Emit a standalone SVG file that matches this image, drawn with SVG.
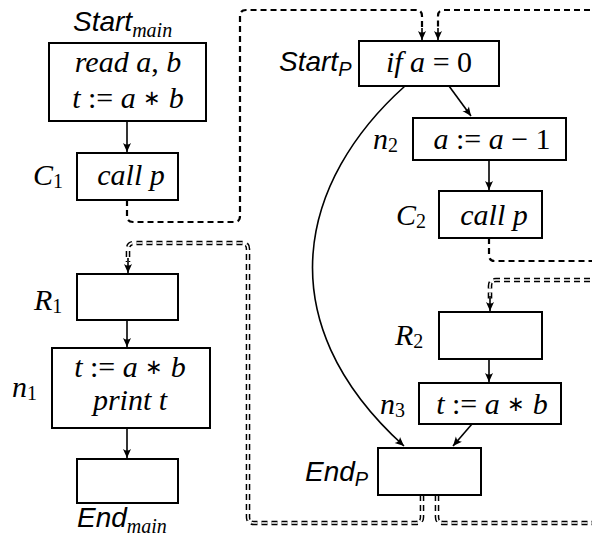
<svg xmlns="http://www.w3.org/2000/svg" width="592" height="542" viewBox="0 0 592 542">
<style>
.box{fill:#fff;stroke:#000;stroke-width:2}
.m{font-family:"Liberation Serif","Times New Roman",serif;font-size:30px;font-style:italic;fill:#000}
.u{font-style:normal}
.ast{font-style:normal;font-size:21px}
.s{font-family:"Liberation Sans",Arial,sans-serif;font-size:28px;font-style:italic;fill:#000}
.sub{font-size:20px}
.edge{fill:none;stroke:#000;stroke-width:1.6}
.dash{fill:none;stroke:#000;stroke-width:2.2;stroke-dasharray:6 4}
.dblo{fill:none;stroke:#000;stroke-width:4.6;stroke-dasharray:6 4}
.dbli{fill:none;stroke:#fff;stroke-width:1.6;stroke-dasharray:6 4}
</style>
<defs>
<marker id="ah" viewBox="-10 -5 11 10" refX="0" refY="0" markerWidth="11" markerHeight="10" markerUnits="userSpaceOnUse" orient="auto">
<path d="M0,0 L-9,-4 Q-6,0 -9,4 Z" fill="#000"/>
</marker>
</defs>
<g id="connectors">
<path class="edge" d="M127,121 V152" marker-end="url(#ah)"/>
<path class="edge" d="M449,86 L471,116" marker-end="url(#ah)"/>
<path class="edge" d="M489,160 V190" marker-end="url(#ah)"/>
<path class="edge" d="M489,359 V382" marker-end="url(#ah)"/>
<path class="edge" d="M472,424 L453,446" marker-end="url(#ah)"/>
<path class="edge" d="M405,86 C300,180 265,320 404,446" marker-end="url(#ah)"/>
<path class="edge" d="M127,320 V347" marker-end="url(#ah)"/>
<path class="edge" d="M127,428 V458" marker-end="url(#ah)"/>
<path class="dash" d="M127,200 V216 Q127,222 133,222 H234 Q240,222 240,216 V16 Q240,10 246,10 H416 Q422,10 422,16 V30"/>
<path class="edge" d="M422,28 V40" marker-end="url(#ah)"/>
<path class="dash" d="M600,10 H444 Q438,10 438,16 V30"/>
<path class="edge" d="M438,28 V40" marker-end="url(#ah)"/>
<path class="dash" d="M489,238 V255 Q489,261 495,261 H600"/>
<path class="dblo" d="M600,280 H496 Q490,280 490,286 V300"/>
<path class="dbli" d="M600,280 H496 Q490,280 490,286 V300"/>
<path class="edge" d="M490,296 V311" marker-end="url(#ah)"/>
<path class="dblo" d="M422,495 V517 Q422,523 416,523 H254 Q248,523 248,517 V249 Q248,243 242,243 H134 Q128,243 128,249 V262"/>
<path class="dbli" d="M422,495 V517 Q422,523 416,523 H254 Q248,523 248,517 V249 Q248,243 242,243 H134 Q128,243 128,249 V262"/>
<path class="edge" d="M128,258 V273" marker-end="url(#ah)"/>
<path class="dblo" d="M437,495 V517 Q437,523 443,523 H600"/>
<path class="dbli" d="M437,495 V517 Q437,523 443,523 H600"/>
</g>
<g id="start_main">
<text class="s" x="73" y="31">Start<tspan class="m sub" dy="6">main</tspan></text>
<rect class="box" x="49" y="43" width="157" height="78"/>
<text class="m" x="128" y="72" text-anchor="middle">read a<tspan class="u">,</tspan> b</text>
<text class="m" x="128" y="108" text-anchor="middle">t <tspan class="u">:=</tspan> a <tspan class="ast" dy="-3">∗</tspan><tspan dy="3"> b</tspan></text>
</g>
<g id="c1">
<rect class="box" x="77" y="153" width="101" height="47"/>
<text class="m" x="131" y="185" text-anchor="middle">call p</text>
<text class="m" x="33" y="185">C<tspan class="u sub" dy="3">1</tspan></text>
</g>
<g id="r1">
<rect class="box" x="77" y="274" width="101" height="46"/>
<text class="m" x="34" y="310">R<tspan class="u sub" dy="3">1</tspan></text>
</g>
<g id="n1">
<rect class="box" x="52" y="348" width="158" height="80"/>
<text class="m" x="130" y="377" text-anchor="middle">t <tspan class="u">:=</tspan> a <tspan class="ast" dy="-3">∗</tspan><tspan dy="3"> b</tspan></text>
<text class="m" x="130" y="410" text-anchor="middle">print t</text>
<text class="m" x="12" y="397">n<tspan class="u sub" dy="3">1</tspan></text>
</g>
<g id="end_main">
<rect class="box" x="77" y="459" width="101" height="44"/>
<text class="s" x="77" y="527">End<tspan class="m sub" dy="6">main</tspan></text>
</g>
<g id="start_p">
<rect class="box" x="359" y="41" width="140" height="45"/>
<text class="m" x="429" y="72" text-anchor="middle">if a <tspan class="u">=</tspan> <tspan class="u">0</tspan></text>
<text class="s" x="279" y="71">Start<tspan class="sub" dy="5">P</tspan></text>
</g>
<g id="n2">
<rect class="box" x="413" y="118" width="153" height="42"/>
<text class="m" x="492" y="149" text-anchor="middle">a <tspan class="u">:=</tspan> a <tspan class="u">− 1</tspan></text>
<text class="m" x="373" y="149">n<tspan class="u sub" dy="3">2</tspan></text>
</g>
<g id="c2">
<rect class="box" x="439" y="191" width="103" height="47"/>
<text class="m" x="494" y="225" text-anchor="middle">call p</text>
<text class="m" x="396" y="225">C<tspan class="u sub" dy="3">2</tspan></text>
</g>
<g id="r2">
<rect class="box" x="439" y="312" width="103" height="47"/>
<text class="m" x="395" y="345">R<tspan class="u sub" dy="3">2</tspan></text>
</g>
<g id="n3">
<rect class="box" x="419" y="383" width="142" height="41"/>
<text class="m" x="492" y="414" text-anchor="middle">t <tspan class="u">:=</tspan> a <tspan class="ast" dy="-3">∗</tspan><tspan dy="3"> b</tspan></text>
<text class="m" x="380" y="414">n<tspan class="u sub" dy="3">3</tspan></text>
</g>
<g id="end_p">
<rect class="box" x="378" y="448" width="103" height="47"/>
<text class="s" x="305" y="481">End<tspan class="sub" dy="5">P</tspan></text>
</g>
</svg>
